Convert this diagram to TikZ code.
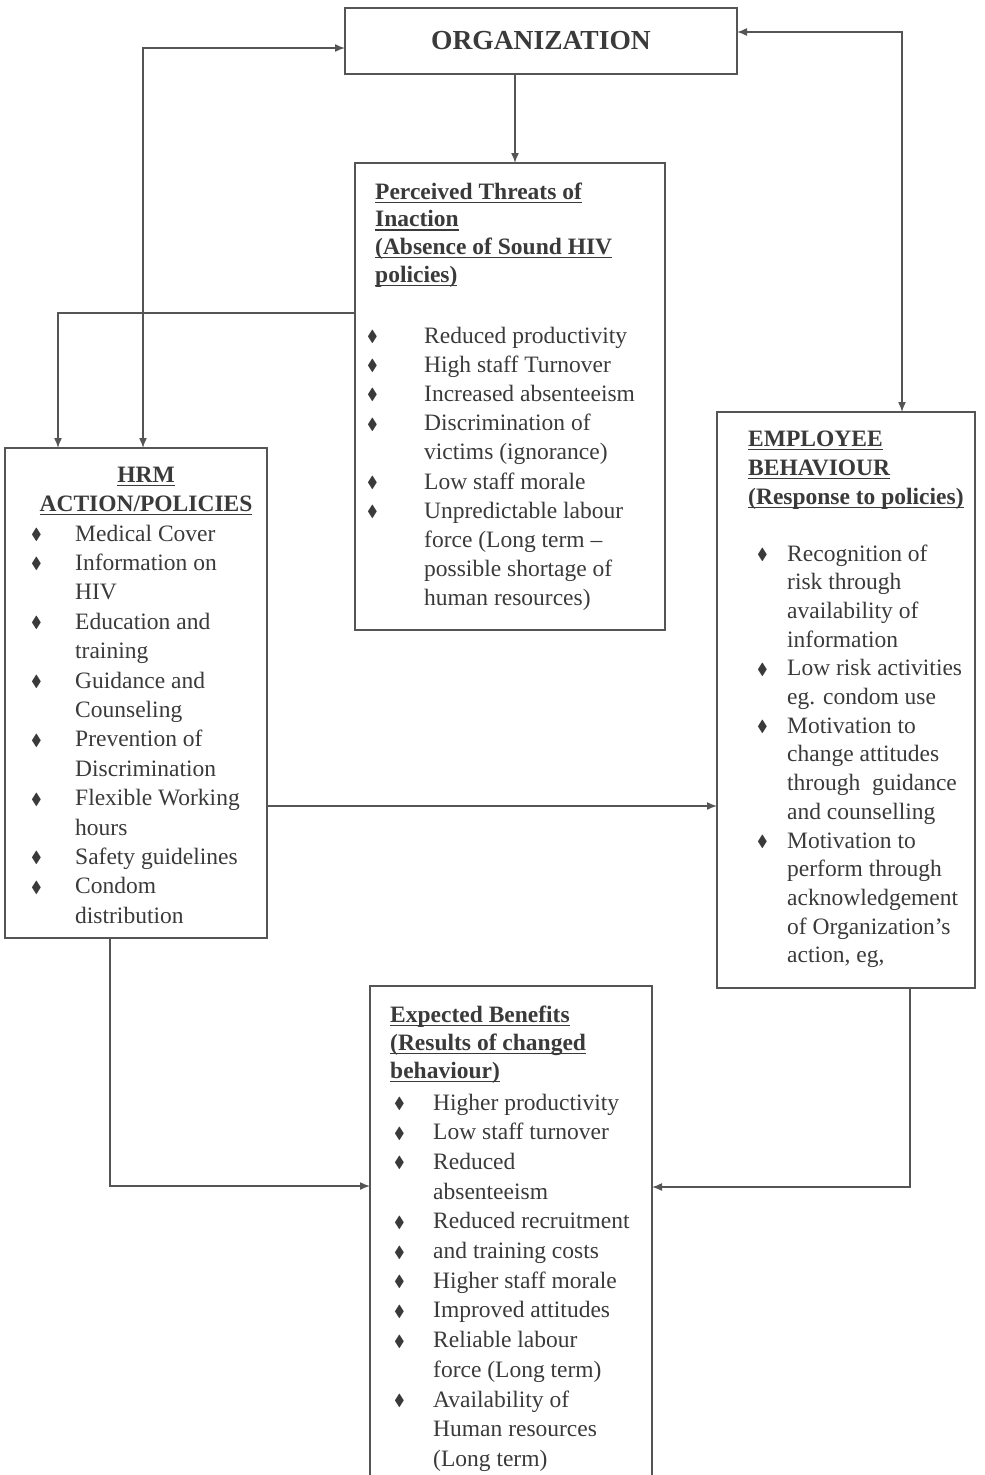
\documentclass[tikz,border=0pt]{standalone}
\usepackage{fontspec}
\setmainfont{Liberation Serif}
\usepackage{amssymb}
\usetikzlibrary{arrows.meta}
\definecolor{ink}{HTML}{3A3A3A}
\definecolor{linec}{HTML}{555555}
\newcommand\dia{\raisebox{1.5pt}{\fontsize{16}{16}\selectfont$\blacklozenge$}}
\newcommand\bli[2]{\makebox[#1][l]{\dia}#2}
\newcommand\cli[2]{\hspace*{#1}#2}
\newcommand\myul[1]{\setbox0\hbox{#1}\rlap{\rule[-4pt]{\wd0}{1.5pt}}\box0}
\begin{document}
\begin{tikzpicture}[x=1pt,y=-1pt,
  box/.style={draw=linec, line width=1.6pt, inner sep=0pt, outer sep=0pt, anchor=north west},
  txt/.style={text=ink, align=left, anchor=base west, inner sep=0pt},
  conn/.style={draw=linec, line width=1.5pt},
  arr/.style={conn, -{Latex[length=10pt,width=8pt]}},
  darr/.style={conn, {Latex[length=10pt,width=8pt]}-{Latex[length=10pt,width=8pt]}}]
\useasboundingbox (0,0) rectangle (985,1475);

% boxes
\node[box, minimum width=392pt, minimum height=66pt, text=ink,
      font=\bfseries\fontsize{27.5}{30}\selectfont] (org) at (345,8) {ORGANIZATION};
\node[box, minimum width=310pt, minimum height=467pt] (perc) at (355,163) {};
\node[box, minimum width=262pt, minimum height=490pt] (hrm) at (5,448) {};
\node[box, minimum width=258pt, minimum height=576pt] (emp) at (717,412) {};
\node[box, draw=none, minimum width=282pt, minimum height=492pt] (exp) at (370,986) {};
\draw[conn, line width=1.6pt] (exp.south west) -- (exp.north west) -- (exp.north east) -- (exp.south east);

% (multi-line nodes: base anchor = baseline of the LAST line)
% Perceived threats
\node[txt, font=\bfseries\fontsize{23.5}{27.7}\selectfont] (perch) at (375,282.1)
  {\myul{Perceived Threats of}\\\myul{Inaction}\\\myul{(Absence of Sound HIV}\\\myul{policies)}};
\node[txt, font=\fontsize{23.5}{29.2}\selectfont] (percl) at (367,605.8)
  {\bli{57pt}{Reduced productivity}\\
   \bli{57pt}{High staff Turnover}\\
   \bli{57pt}{Increased absenteeism}\\
   \bli{57pt}{Discrimination of}\\
   \cli{57pt}{victims (ignorance)}\\
   \bli{57pt}{Low staff morale}\\
   \bli{57pt}{Unpredictable labour}\\
   \cli{57pt}{force (Long term --}\\
   \cli{57pt}{possible shortage of}\\
   \cli{57pt}{human resources)}};

% HRM
\node[txt, anchor=base, align=center, font=\bfseries\fontsize{23.5}{29}\selectfont] (hrmh) at (146,511)
  {\myul{HRM}\\\myul{ACTION/POLICIES}};
\node[txt, font=\fontsize{23.5}{29.4}\selectfont] (hrml) at (31,923.2)
  {\bli{44pt}{Medical Cover}\\
   \bli{44pt}{Information on}\\
   \cli{44pt}{HIV}\\
   \bli{44pt}{Education and}\\
   \cli{44pt}{training}\\
   \bli{44pt}{Guidance and}\\
   \cli{44pt}{Counseling}\\
   \bli{44pt}{Prevention of}\\
   \cli{44pt}{Discrimination}\\
   \bli{44pt}{Flexible Working}\\
   \cli{44pt}{hours}\\
   \bli{44pt}{Safety guidelines}\\
   \bli{44pt}{Condom}\\
   \cli{44pt}{distribution}};

% Employee behaviour
\node[txt, font=\bfseries\fontsize{23.5}{29}\selectfont] (emph) at (748,504)
  {\myul{EMPLOYEE}\\\myul{BEHAVIOUR}\\\myul{(Response to policies)}};
\node[txt, font=\fontsize{23.5}{28.7}\selectfont] (empl) at (757,962.8)
  {\bli{30pt}{Recognition of}\\
   \cli{30pt}{risk through}\\
   \cli{30pt}{availability of}\\
   \cli{30pt}{information}\\
   \bli{30pt}{Low risk activities}\\
   \cli{30pt}{eg. condom use}\\
   \bli{30pt}{Motivation to}\\
   \cli{30pt}{change attitudes}\\
   \cli{30pt}{through\ \ guidance}\\
   \cli{30pt}{and counselling}\\
   \bli{30pt}{Motivation to}\\
   \cli{30pt}{perform through}\\
   \cli{30pt}{acknowledgement}\\
   \cli{30pt}{of Organization's}\\
   \cli{30pt}{action, eg,}};

% Expected benefits
\node[txt, font=\bfseries\fontsize{23.5}{28}\selectfont] (exph) at (390,1078)
  {\myul{Expected Benefits}\\\myul{(Results of changed}\\\myul{behaviour)}};
\node[txt, font=\fontsize{23.5}{29.7}\selectfont] (expl) at (394,1466.4)
  {\bli{39pt}{Higher productivity}\\
   \bli{39pt}{Low staff turnover}\\
   \bli{39pt}{Reduced}\\
   \cli{39pt}{absenteeism}\\
   \bli{39pt}{Reduced recruitment}\\
   \bli{39pt}{and training costs}\\
   \bli{39pt}{Higher staff morale}\\
   \bli{39pt}{Improved attitudes}\\
   \bli{39pt}{Reliable labour}\\
   \cli{39pt}{force (Long term)}\\
   \bli{39pt}{Availability of}\\
   \cli{39pt}{Human resources}\\
   \cli{39pt}{(Long term)}};

% connectors
\coordinate (a1) at (515,0);
\draw[arr] (org.south -| a1) -- (perc.north -| a1);
\coordinate (a2) at (58,313);
\draw[arr] (perc.west |- a2) -| (hrm.north -| a2);
\coordinate (a3) at (143,48);
\draw[darr] (org.west |- a3) -| (hrm.north -| a3);
\coordinate (a4) at (902,32);
\draw[darr] (org.east |- a4) -| (emp.north -| a4);
\coordinate (a5) at (0,806);
\draw[arr] (hrm.east |- a5) -- (emp.west |- a5);
\coordinate (a6) at (110,1186);
\draw[arr] (hrm.south -| a6) |- (exp.west |- a6);
\coordinate (a7) at (910,1187);
\draw[arr] (emp.south -| a7) |- (exp.east |- a7);
\end{tikzpicture}
\end{document}
